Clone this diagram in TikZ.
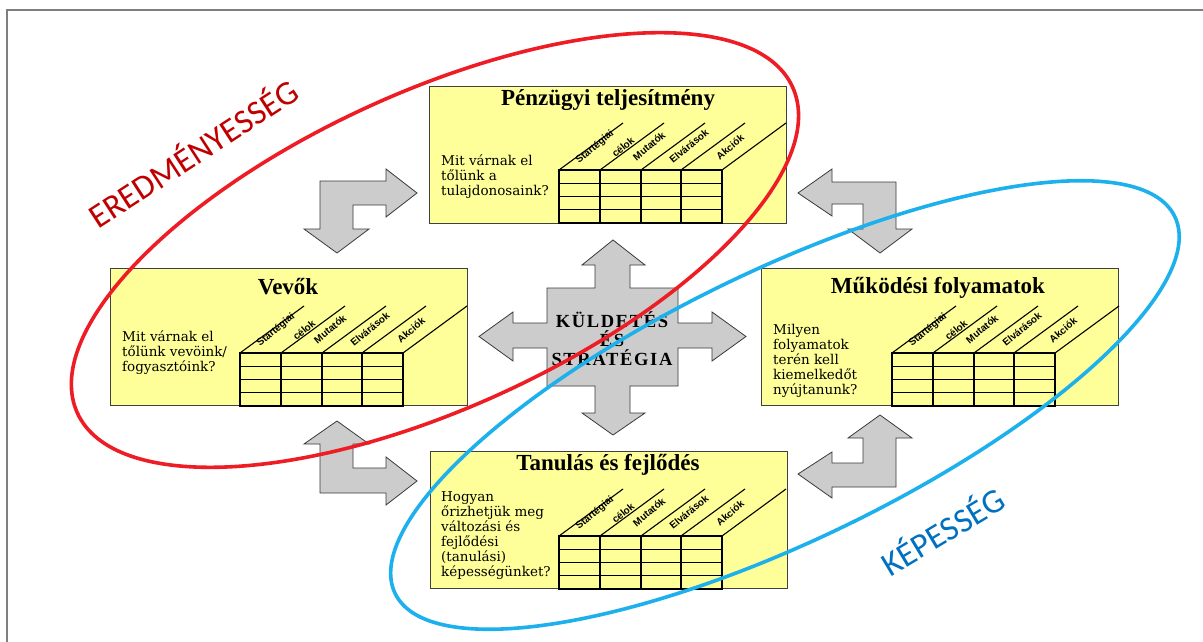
\documentclass[tikz,border=0pt]{standalone}
\usepackage{fontspec}
\setmainfont{Liberation Serif}
\newfontfamily\qfont{DejaVu Serif}
\newfontfamily\hfont{Liberation Sans}
\newfontfamily\capfont{Carlito}
\newfontfamily\missionfont[LetterSpace=9]{Liberation Serif}

\definecolor{cardfill}{HTML}{FFFF99}
\definecolor{boxedge}{HTML}{404040}
\definecolor{arrowfill}{HTML}{CCCCCC}
\definecolor{arrowedge}{HTML}{3A3A3A}
\definecolor{redring}{HTML}{EE1C24}
\definecolor{bluering}{HTML}{1CB0EC}
\definecolor{redlabel}{HTML}{C00000}
\definecolor{bluelabel}{HTML}{0070C0}
\definecolor{framegray}{HTML}{7F7F7F}

\tikzset{
  cardbox/.style={draw=boxedge, fill=cardfill, line width=0.8pt, inner sep=0pt,
    minimum width=357pt, minimum height=137pt},
  cardtitle/.style={font=\fontsize{23}{26}\selectfont\bfseries, inner sep=0pt},
  question/.style={font=\qfont\fontsize{13.5}{15}\selectfont, align=left,
    anchor=west, inner sep=0pt},
  gridline/.style={line width=1.1pt, black},
  colhead/.style={font=\hfont\bfseries\fontsize{10}{11}\selectfont, rotate=40, inner sep=0pt},
  bentarrow/.style={fill=arrowfill, draw=arrowedge, line width=0.8pt, line join=miter},
  ring/.style={line width=3.6pt},
  ringlabel/.style={font=\capfont\fontsize{34}{36}\selectfont, inner sep=0pt},
  frame/.style={draw=framegray, line width=2pt},
  % measure grid with slanted column headers
  scoregrid/.pic={
    \draw[gridline] (0,0) rectangle (163,53);
    \foreach \cx in {41,82,122} \draw[gridline] (\cx,0) -- (\cx,53);
    \foreach \cy in {13.25,26.5,39.75} \draw[gridline] (0,\cy) -- (163,\cy);
    \foreach \cx in {0,41,82,122,163} \draw[gridline] (\cx,0) -- ++(64,-47);
    \node[colhead] (-a) at (36,-23) {Startégiai};
    \node[colhead] (-b) at (64,-23) {célok};
    \node[colhead] (-c) at (90,-24) {Mutatók};
    \node[colhead] (-d) at (130,-24) {Elvárások};
    \node[colhead] (-e) at (171,-23) {Akciók};
  }
}

\begin{document}
\begin{tikzpicture}[x=1pt,y=-1pt]
\useasboundingbox (0,0) rectangle (1203,642);
\fill[white] (0,0) rectangle (1203,642);

% page frame
\coordinate (frameA) at (7,642);
\coordinate (frameB) at (7,10);
\coordinate (frameC) at (1203,10);
\draw[frame] (frameA) -- (frameB) -- (frameC);

% bent arrows between the perspectives
\draw[bentarrow] (320,181) -- (386,181) -- (386,169) -- (417,193) -- (386,217) -- (386,205)
  -- (353,205) -- (353,229) -- (369,229) -- (337,253) -- (304,229) -- (320,229) -- cycle;
\draw[bentarrow] (896,182) -- (832,182) -- (832,169) -- (798,193) -- (832,216) -- (832,204)
  -- (863,204) -- (863,229) -- (848,229) -- (880,253) -- (912,229) -- (896,229) -- cycle;
\draw[bentarrow] (320,493) -- (320,444) -- (304,444) -- (337,421) -- (369,444) -- (353,444)
  -- (353,468) -- (386,468) -- (386,457) -- (417,481) -- (386,505) -- (386,493) -- cycle;
\draw[bentarrow] (896,487) -- (896,438) -- (912,438) -- (880,415) -- (848,438) -- (863,438)
  -- (863,463) -- (832,463) -- (832,452) -- (798,474) -- (832,498) -- (832,487) -- cycle;

% central four-way arrow
\draw[bentarrow] (613,240) -- (645,265) -- (630,265) -- (630,288) -- (678,288) -- (678,323)
  -- (712,323) -- (712,312) -- (746,336.5) -- (712,361) -- (712,348) -- (678,348)
  -- (678,386) -- (630,386) -- (630,413) -- (645,413) -- (613,435) -- (582,413)
  -- (595,413) -- (595,386) -- (547,386) -- (547,348) -- (513,348) -- (513,361)
  -- (479,336.5) -- (513,312) -- (513,323) -- (547,323) -- (547,288) -- (595,288)
  -- (595,265) -- (582,265) -- cycle;
\node[font=\missionfont\bfseries\fontsize{18.5}{19}\selectfont, align=center, inner sep=0pt]
  (mission) at (612,339) {KÜLDETÉS\\ÉS\\STRATÉGIA};

% perspective cards
\node[cardbox] (fin) at (608,154.5) {};
\node[cardtitle] (fintitle) at (608,100) {Pénzügyi teljesítmény};
\node[question] (finq) at (441,177) {Mit várnak el\\tőlünk a\\tulajdonosaink?};
\pic (fingrid) at (559,170) {scoregrid};

\node[cardbox] (cust) at (288.5,337) {};
\node[cardtitle] (custtitle) at (288,287) {Vevők};
\node[question] (custq) at (122,353) {Mit várnak el\\tőlünk vevöink/\\fogyasztóink?};
\pic (custgrid) at (240,353) {scoregrid};

\node[cardbox] (proc) at (939.5,337) {};
\node[cardtitle] (proctitle) at (938,288) {Működési folyamatok};
\node[question] (procq) at (773,361) {Milyen\\folyamatok\\terén kell\\kiemelkedőt\\nyújtanunk?};
\pic (procgrid) at (892,353) {scoregrid};

\node[cardbox] (learn) at (608.5,520) {};
\node[cardtitle] (learntitle) at (608,465) {Tanulás és fejlődés};
\node[question] (learnq) at (441,535.5) {Hogyan\\őrizhetjük meg\\változási és\\fejlődési\\(tanulási)\\képességünket?};
\pic (learngrid) at (559,536) {scoregrid};

% grouping rings
\coordinate (redc) at (435,250);
\draw[ring, draw=redring, rotate around={24.5:(redc)}] (redc) ellipse [x radius=393pt, y radius=158pt];
\coordinate (bluec) at (785,405);
\draw[ring, draw=bluering, rotate around={25.8:(bluec)}] (bluec) ellipse [x radius=433pt, y radius=135pt];

\node[ringlabel, text=redlabel, rotate=33] (effect) at (192,152) {EREDMÉNYESSÉG};
\node[ringlabel, text=bluelabel, rotate=31] (capab) at (942,530) {KÉPESSÉG};
\end{tikzpicture}
\end{document}
